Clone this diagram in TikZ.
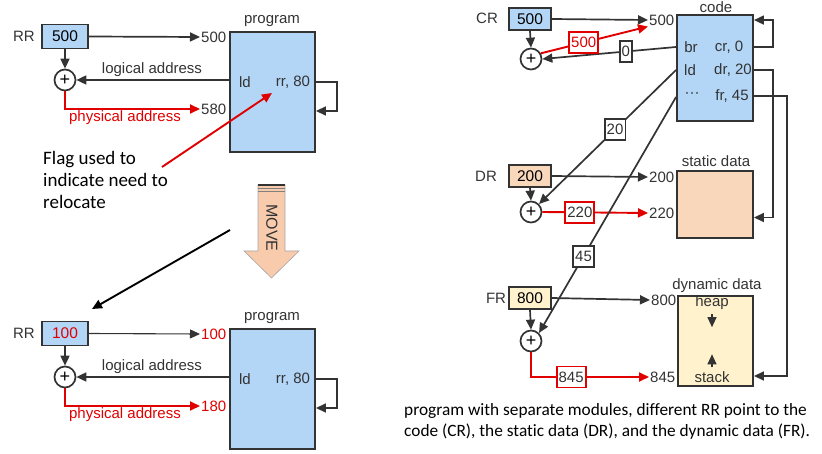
\documentclass[tikz,border=0pt]{standalone}
\usepackage{fontspec}
\setmainfont{Liberation Sans}
\newfontfamily\cali[Ligatures=NoCommon]{Carlito}
\usetikzlibrary{arrows.meta,calc}
\definecolor{lnc}{HTML}{333333}
\definecolor{redc}{HTML}{E00000}
\definecolor{blueF}{HTML}{B3D6F7}
\definecolor{peachF}{HTML}{F9D7BA}
\definecolor{moveF}{HTML}{F8CBAD}
\definecolor{yellF}{HTML}{FFF2CC}
\tikzset{
  tip/.style={-{Triangle[length=10pt,width=9pt]}},
  conn/.style={draw=lnc,line width=1.7pt,tip},
  thinconn/.style={draw=lnc,line width=1.1pt,tip},
  redconn/.style={draw=redc,line width=1.9pt,tip},
  regbox/.style={draw=lnc,line width=1.9pt,minimum width=46pt,minimum height=24pt,inner sep=0pt,font=\fontsize{15.5}{15.5}\selectfont},
  rreg/.style={draw=lnc,line width=1.9pt,minimum width=42pt,minimum height=22pt,inner sep=0pt,font=\fontsize{15.5}{15.5}\selectfont},
  membox/.style={draw=lnc,line width=1.9pt,inner sep=0pt},
  adder/.style={circle,draw=lnc,line width=1.7pt,fill=white,minimum size=21pt,inner sep=0pt,font=\fontsize{18}{18}\selectfont},
  lbl/.style={inner sep=1pt,font=\fontsize{15}{15}\selectfont,text=lnc},
  lblbox/.style={draw=lnc,fill=white,line width=1.6pt,inner sep=2pt,font=\fontsize{15}{15}\selectfont,text=lnc,minimum height=21pt},
  redbox/.style={draw=redc,fill=white,line width=1.9pt,inner sep=2pt,font=\fontsize{15}{15}\selectfont,minimum height=21pt},
  flagtxt/.style={inner sep=0pt,anchor=base west,font=\cali\fontsize{19}{19}\selectfont},
  captxt/.style={inner sep=0pt,anchor=base west,font=\cali\fontsize{17.3}{17.3}\selectfont},
}
\begin{document}
\begin{tikzpicture}[x=1pt,y=-1pt]
\useasboundingbox (0,0) rectangle (822,454);
% ================= top left =================
\node[lbl] (rrA) at (24,36) {RR};
\node[regbox,fill=blueF] (rA) at (65,36.5) {500};
\node[membox,fill=blueF,minimum width=85pt,minimum height=120pt] (pA) at (272.5,92) {};
\node[lbl] (pAl) at (272,21) {program};
\node[lbl,anchor=west] (tA1) at (200,37) {500};
\node[adder] (cA) at (65,80) {+};
\node[lbl] (ldA) at (245,82) {ld};
\node[lbl] (rrxA) at (293,82) {rr, 80};
\node[lbl,anchor=west] (tA2) at (200,109) {580};
\node[lbl] (laA) at (152,70) {logical address};
\node[lbl,text=redc] (paA) at (125,118) {physical address};
\draw[conn] (rA.east) -- (tA1.west);
\draw[conn] (rA.south) -- (cA.north);
\draw[conn] (pA.west |- cA.east) -- (cA.east);
\draw[redconn] (cA.south) |- (tA2.west);
\draw[conn] (pA.east |- rrxA) -- ++(21,0) -- ++(0,29) -- ($(pA.east)+(0,19)$);
% flag text
\node[flagtxt] (f1) at (43,165) {Flag used to};
\node[flagtxt] (f2) at (43,187) {indicate need to};
\node[flagtxt] (f3) at (43,209) {relocate};
\coordinate (fa) at (162,167);
\coordinate (fb) at (272,93);
\draw[redc,line width=1.9pt,tip] (fa) -- (fb);
% MOVE arrow
\draw[draw=gray!70,fill=moveF,line width=0.6pt] (258,185) -- (285,185) -- (285,251) -- (299,251) -- (271.5,278) -- (244,251) -- (258,251) -- cycle;
\draw[lnc,line width=1.2pt] (258,185) -- (285,185);
\draw[gray,line width=0.8pt] (258,188.5) -- (285,188.5);
\draw[gray,line width=0.8pt] (258,191.5) -- (285,191.5);
\node[lbl,rotate=-90,font=\fontsize{16}{16}\selectfont] (mv) at (272,228) {MOVE};
\coordinate (ma) at (230,230);
\coordinate (mb) at (92,309);
\draw[black,line width=1.9pt,tip] (ma) -- (mb);
% ================= bottom left =================
\begin{scope}[yshift=-297pt]
\node[lbl] (rrB) at (24,36) {RR};
\node[regbox,fill=blueF,text=redc] (rB) at (65,36.5) {100};
\node[membox,fill=blueF,minimum width=85pt,minimum height=120pt] (pB) at (272.5,92) {};
\node[lbl] (pBl) at (272,21) {program};
\node[lbl,anchor=west,text=redc] (tB1) at (200,37) {100};
\node[adder] (cB) at (65,80) {+};
\node[lbl] (ldB) at (245,82) {ld};
\node[lbl] (rrxB) at (293,82) {rr, 80};
\node[lbl,anchor=west,text=redc] (tB2) at (200,109) {180};
\node[lbl] (laB) at (152,70) {logical address};
\node[lbl,text=redc] (paB) at (125,118) {physical address};
\draw[thinconn] (rB.east) -- (tB1.west);
\draw[conn] (rB.south) -- (cB.north);
\draw[conn] (pB.west |- cB.east) -- (cB.east);
\draw[redconn] (cB.south) |- (tB2.west);
\draw[conn] (pB.east |- rrxB) -- ++(21,0) -- ++(0,29) -- ($(pB.east)+(0,19)$);
\end{scope}
% ================= right =================
\node[lbl] (crl) at (487,18) {CR};
\node[rreg,fill=blueF] (cr) at (530,19) {500};
\node[lbl] (drl) at (486,176) {DR};
\node[rreg,fill=peachF] (dr) at (530,176) {200};
\node[lbl] (frl) at (496,298) {FR};
\node[rreg,fill=yellF] (fr) at (530,298) {800};
\node[membox,fill=blueF,minimum width=76pt,minimum height=106pt] (code) at (715,68) {};
\node[lbl] (codel) at (716,7) {code};
\node[membox,fill=peachF,minimum width=76pt,minimum height=67pt] (sd) at (715,204.5) {};
\node[lbl] (sdl) at (716,161) {static data};
\node[membox,fill=yellF,minimum width=75pt,minimum height=90pt] (dd) at (715.5,341) {};
\node[lbl] (ddl) at (717,286) {dynamic data};
\node[lbl] (br) at (691,47) {br};
\node[lbl] (cr0) at (729,47) {cr, 0};
\node[lbl] (ld) at (690,70) {ld};
\node[lbl] (dr20) at (733,70) {dr, 20};
\node[lbl] (dots) at (692,95) {···};
\node[lbl] (fr45) at (732,96) {fr, 45};
\node[lbl] (heap) at (712,303) {heap};
\node[lbl] (stack) at (712,377) {stack};
\draw[thinconn] (heap.south) ++(0,3) -- ++(0,13);
\draw[thinconn] (stack.north) ++(0,-3) -- ++(0,-13);
\node[adder] (ccr) at (531,59) {+};
\node[adder] (cdr) at (531,212) {+};
\node[adder] (cfr) at (531,341) {+};
\node[lbl,anchor=west] (t500) at (648,20) {500};
\node[lbl,anchor=west] (t200) at (648,177) {200};
\node[lbl,anchor=west] (t220) at (648,213) {220};
\node[lbl,anchor=west] (t800) at (650,300) {800};
\node[lbl,anchor=west] (t845) at (649,377) {845};
% CR
\draw[conn] (cr.east) -- (t500.west);
\draw[conn] (cr.south) -- (ccr.north);
\draw[conn] (code.west |- br) -- (ccr.east) node[lblbox,pos=0.375] (b0) {0};
\draw[redconn] (ccr.30) -- (t500.south west) node[redbox,text=redc,pos=0.4] (b500) {500};
\draw[conn] (code.east |- cr0) -- ++(19,0) |- ($(code.north east)+(0,6)$);
% DR
\draw[conn] (dr.east) -- (t200.west);
\draw[conn] (dr.south) -- (cdr.north);
\draw[conn] (code.west |- ld) -- (cdr.45) node[lblbox,pos=0.445] (b20) {20};
\draw[redconn] (cdr.east) -- (t220.west) node[redbox,text=lnc,pos=0.355] (b220) {220};
\draw[conn] (code.east |- dr20) -- ++(19,0) |- ($(sd.east)+(0,13)$);
% FR
\draw[conn] (fr.east) -- (t800.west);
\draw[conn] (fr.south) -- (cfr.north);
\draw[conn] ($(code.west)+(0,29)$) -- (cfr.45) node[lblbox,pos=0.675] (b45) {45};
\draw[redconn] (cfr.south) |- (t845.west) node[redbox,text=lnc,pos=0.67] (b845) {845};
\draw[conn] (code.east |- fr45) -- ++(33,0) |- ($(dd.east)+(0,35)$);
% caption
\node[captxt] (cap1) at (404,415.5) {program with separate modules, different RR point to the};
\node[captxt] (cap2) at (404,436) {code (CR), the static data (DR), and the dynamic data (FR).};
\end{tikzpicture}
\end{document}
